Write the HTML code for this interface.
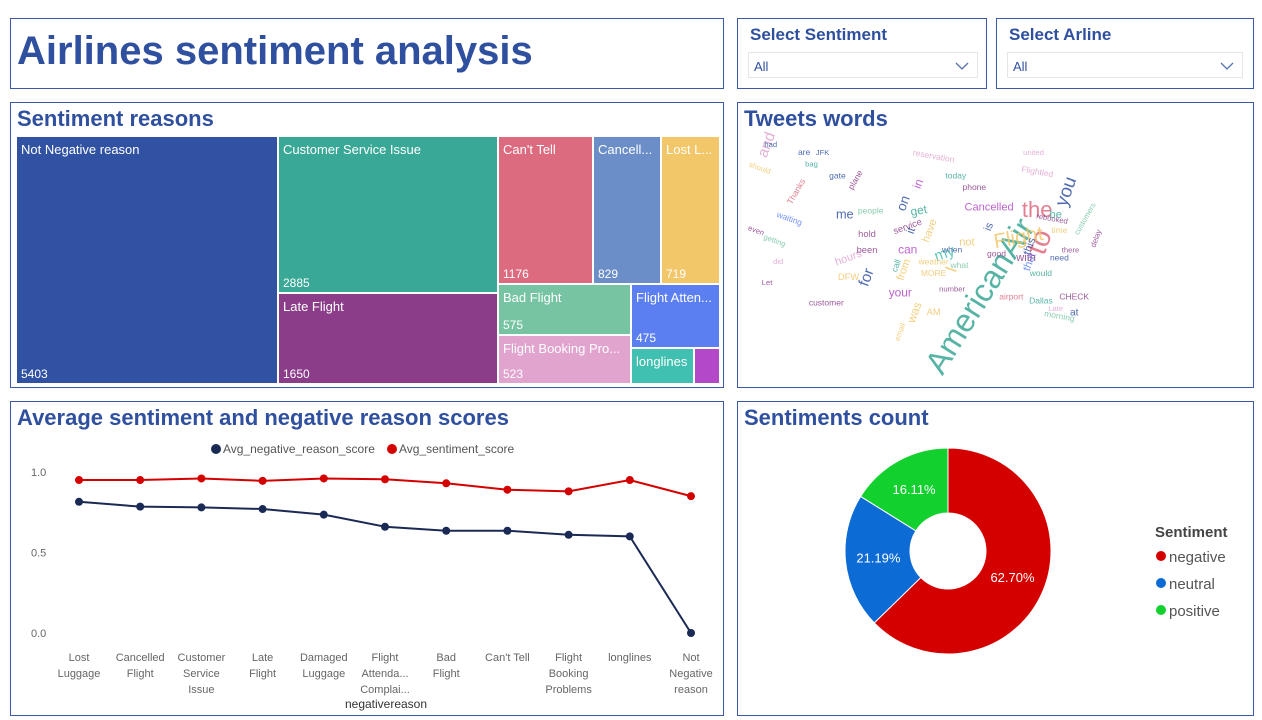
<!DOCTYPE html>
<html><head><meta charset="utf-8"><style>
body{margin:0;width:1262px;height:720px;background:#fff;font-family:"Liberation Sans",sans-serif;position:relative;overflow:hidden}
.p{position:absolute;border:1px solid #3a5aa8;box-sizing:border-box;background:#fff}
.t{position:absolute;color:#2f4f9f;font-weight:bold}
.tm{position:absolute;color:#fff;font-size:13px;box-sizing:border-box}
.tm .n{position:absolute;left:4px;top:5px;white-space:nowrap}
.tm .v{position:absolute;left:4px;bottom:2px;font-size:12px}
.dd{position:absolute;border:1px solid #e6e6e6;height:26px;box-sizing:border-box;font-size:13px;color:#2f4f9f;padding:6px 5px}
</style></head><body>
<div class="p" style="left:10px;top:18px;width:714px;height:71px"><div class="t" style="left:6px;top:10px;font-size:40px">Airlines sentiment analysis</div></div>
<div class="p" style="left:737px;top:18px;width:250px;height:71px"><div class="t" style="left:12px;top:6px;font-size:17px">Select Sentiment</div>
<div class="dd" style="left:10px;top:33px;width:230px">All<svg width="14" height="8" style="position:absolute;right:8px;top:9px"><polyline points="1,1 7,7 13,1" fill="none" stroke="#5570b0" stroke-width="1.3"/></svg></div></div>
<div class="p" style="left:996px;top:18px;width:258px;height:71px"><div class="t" style="left:12px;top:6px;font-size:17px">Select Arline</div>
<div class="dd" style="left:10px;top:33px;width:236px">All<svg width="14" height="8" style="position:absolute;right:8px;top:9px"><polyline points="1,1 7,7 13,1" fill="none" stroke="#5570b0" stroke-width="1.3"/></svg></div></div>

<div class="p" style="left:10px;top:102px;width:714px;height:286px"><div class="t" style="left:6px;top:3px;font-size:22px">Sentiment reasons</div></div>
<div id="tm"></div>

<div class="p" style="left:737px;top:102px;width:517px;height:286px"><div class="t" style="left:6px;top:3px;font-size:22px">Tweets words</div>
<svg width="517" height="286" style="position:absolute;left:0;top:0" font-family="Liberation Sans, sans-serif" id="wc"></svg></div>

<div class="p" style="left:10px;top:401px;width:714px;height:315px"><div class="t" style="left:6px;top:3px;font-size:22px">Average sentiment and negative reason scores</div></div>
<svg id="lc" width="714" height="315" style="position:absolute;left:10px;top:401px" font-family="Liberation Sans, sans-serif"></svg>

<div class="p" style="left:737px;top:401px;width:517px;height:315px"><div class="t" style="left:6px;top:3px;font-size:22px">Sentiments count</div></div>
<svg id="dn" width="517" height="315" style="position:absolute;left:737px;top:401px" font-family="Liberation Sans, sans-serif"></svg>

<script>
// Treemap
const tmNames=["Not Negative reason","Customer Service Issue","Late Flight","Can't Tell","Cancell...","Lost L...","Bad Flight","Flight Booking Pro...","Flight Atten...","longlines",""];
const tmValues=[5403,2885,1650,1176,829,719,575,523,475,"",""];
const tmColors=["#3152a3","#3aa896","#8b3d8a","#dd6b7f","#6b8ec8","#f2c76a","#76c4a2","#e0a4cf","#5b7ff0","#40c0b0","#b348c8"];
const tmRects=[[17,137,260,246],[279,137,218,155],[279,294,218,89],[499,137,93,146],[594,137,66,146],[662,137,57,146],[499,285,131,49],[499,336,131,47],[632,285,87,62],[632,349,61,34],[695,349,24,34]];
const tm=document.getElementById('tm');
tmNames.forEach((n,i)=>{const r=tmRects[i];const d=document.createElement('div');d.className='tm';


d.style.cssText=`left:${r[0]}px;top:${r[1]}px;width:${r[2]}px;height:${r[3]}px;background:${tmColors[i]};overflow:hidden`;
d.innerHTML=(n?`<span class="n">${n}</span>`:'')+(tmValues[i]!==""?`<span class="v">${tmValues[i]}</span>`:'');tm.appendChild(d);});

// Word cloud
const words=[["AmericanAir",420,250,38,-58,"#3aa896"],["to",500,180,34,-70,"#dd6b7f"],["the",495,140,26,0,"#dd6b7f"],["Flight",470,175,24,-10,"#f2c76a"],["you",535,115,22,-70,"#3152a3"],["and",130,55,18,-70,"#e0a4cf"],["my",370,195,18,-20,"#40c0b0"],["for",265,225,18,-70,"#3152a3"],["on",315,130,16,-70,"#3152a3"],["I",380,215,20,-70,"#f2c76a"],["Cancelled",430,135,13,0,"#b348c8"],["me",235,145,15,0,"#3152a3"],["get",335,140,14,-10,"#3aa896"],["is",430,160,13,-70,"#3152a3"],["your",310,245,14,0,"#b348c8"],["can",320,190,14,0,"#b348c8"],["was",330,270,14,-70,"#f2c76a"],["it",325,165,14,-70,"#3152a3"],["in",335,105,14,-70,"#b348c8"],["have",350,165,13,-70,"#f2c76a"],["not",400,180,13,0,"#f2c76a"],["this",485,185,13,-70,"#3152a3"],["that",485,205,13,-70,"#5b7ff0"],["be",520,145,13,0,"#3aa896"],["with",480,200,13,0,"#8b3d8a"],["from",315,215,13,-70,"#f2c76a"],["hours",240,200,13,-20,"#e0a4cf"],["service",320,160,11,-20,"#8b3d8a"],["customer",210,258,10,0,"#8b3d8a"],["Thanks",170,115,10,-60,"#dd6b7f"],["waiting",160,150,10,20,"#5b7ff0"],["people",270,140,10,0,"#76c4a2"],["weather",355,205,10,0,"#f2c76a"],["CHECK",545,250,10,0,"#8b3d8a"],["Dallas",500,255,10,0,"#3aa896"],["morning",525,275,10,10,"#76c4a2"],["at",545,270,12,0,"#3152a3"],["airport",460,250,10,0,"#dd6b7f"],["reservation",355,70,10,10,"#e0a4cf"],["today",385,95,10,0,"#3aa896"],["phone",410,110,10,0,"#8b3d8a"],["Flightled",495,90,10,10,"#e0a4cf"],["gate",225,95,10,0,"#3152a3"],["plane",250,100,10,-60,"#8b3d8a"],["had",135,55,9,0,"#3152a3"],["should",120,85,9,20,"#f2c76a"],["even",115,165,9,20,"#8b3d8a"],["getting",140,178,9,20,"#76c4a2"],["did",145,205,9,0,"#e0a4cf"],["Let",130,232,9,0,"#8b3d8a"],["email",310,295,9,-70,"#f2c76a"],["number",380,240,9,0,"#8b3d8a"],["delay",575,175,9,-70,"#8b3d8a"],["customers",560,150,9,-60,"#76c4a2"],["rebooked",515,150,9,10,"#8b3d8a"],["united",490,65,9,0,"#e0a4cf"],["JFK",205,65,9,0,"#3152a3"],["are",180,65,10,0,"#3152a3"],["bag",190,80,9,0,"#3aa896"],["DFW",240,225,11,0,"#f2c76a"],["been",265,190,11,0,"#8b3d8a"],["AM",355,270,11,0,"#f2c76a"],["MORE",355,220,10,0,"#f2c76a"],["Late",520,265,9,0,"#e0a4cf"],["need",525,200,10,0,"#3152a3"],["would",500,220,10,0,"#3aa896"],["good",440,195,10,0,"#8b3d8a"],["what",390,210,10,0,"#76c4a2"],["when",380,190,10,0,"#3152a3"],["hold",265,170,11,0,"#8b3d8a"],["call",305,210,10,-70,"#3aa896"],["time",525,165,10,0,"#f2c76a"],["there",540,190,9,0,"#8b3d8a"]];
const wc=document.getElementById('wc');
words.forEach(w=>{const t=document.createElementNS('http://www.w3.org/2000/svg','text');


const X=18+(w[1]-115)*0.74, Y=42+(w[2]-55)*0.78;
t.setAttribute('transform',`translate(${X},${Y}) rotate(${w[4]})`);t.setAttribute('font-size',w[3]*0.85);t.setAttribute('fill',w[5]);t.setAttribute('text-anchor','middle');t.setAttribute('dominant-baseline','middle');t.setAttribute('opacity','0.85');t.textContent=w[0];wc.appendChild(t);});

// Line chart
const cats=[["Lost","Luggage"],["Cancelled","Flight"],["Customer","Service","Issue"],["Late","Flight"],["Damaged","Luggage"],["Flight","Attenda...","Complai..."],["Bad","Flight"],["Can't Tell"],["Flight","Booking","Problems"],["longlines"],["Not","Negative","reason"]];
const sentScore=[0.95,0.95,0.96,0.945,0.96,0.955,0.93,0.89,0.88,0.95,0.85];
const negScore=[0.815,0.785,0.78,0.77,0.735,0.66,0.635,0.635,0.61,0.6,0.0];
const yTicks=[0.0,0.5,1.0];
const NS='http://www.w3.org/2000/svg';const lc=document.getElementById('lc');
const xs=i=>69+i*61.2, ys=v=>232-v*161;
function el(p,tag,a,txt){const e=document.createElementNS(NS,tag);for(const k in a)e.setAttribute(k,a[k]);if(txt!==undefined)e.textContent=txt;p.appendChild(e);return e;}
yTicks.forEach(v=>{const t=el(lc,'text',{x:21,y:ys(v)+4,'font-size':11,fill:'#666'},v.toFixed(1));});
cats.forEach((c,i)=>c.forEach((l,j)=>{const t=el(lc,'text',{x:xs(i),y:260+j*16,'font-size':11,fill:'#666','text-anchor':'middle'},l);}));
const xt=el(lc,'text',{x:376,y:307,'font-size':12,fill:'#333','text-anchor':'middle'},'negativereason');
[[negScore,'#1b2a55','negative-reason-line'],[sentScore,'#d40000','sentiment-line']].forEach(([s,c,nm])=>{
const pl=el(lc,'polyline',{points:s.map((v,i)=>xs(i)+','+ys(v)).join(' '),fill:'none',stroke:c,'stroke-width':2});
s.forEach((v,i)=>{const p=el(lc,'circle',{cx:xs(i),cy:ys(v),r:4,fill:c});});});
const lg=el(lc,'g',{});
el(lg,'circle',{cx:206,cy:48,r:5,fill:'#1b2a55'});el(lg,'text',{x:213,y:52,'font-size':12,fill:'#555'},'Avg_negative_reason_score');
el(lg,'circle',{cx:382,cy:48,r:5,fill:'#d40000'});el(lg,'text',{x:389,y:52,'font-size':12,fill:'#555'},'Avg_sentiment_score');

// Donut
const sLabels=["negative","neutral","positive"];
const sValues=[62.70,21.19,16.11];
const sColors=["#d40000","#0c6bd4","#12d12f"];
const dn=document.getElementById('dn');const cx=211,cy=150,R=103,r=38;let a0=-Math.PI/2;
const tot=sValues.reduce((a,b)=>a+b,0);
sValues.forEach((v,i)=>{const a1=a0+v/tot*2*Math.PI;const lg2=(a1-a0)>Math.PI?1:0;
const P=(rr,a)=>[cx+rr*Math.cos(a),cy+rr*Math.sin(a)];const [x0,y0]=P(R,a0),[x1,y1]=P(R,a1),[x2,y2]=P(r,a1),[x3,y3]=P(r,a0);
const p=el(dn,'path',{d:`M${x0},${y0}A${R},${R} 0 ${lg2} 1 ${x1},${y1}L${x2},${y2}A${r},${r} 0 ${lg2} 0 ${x3},${y3}Z`,fill:sColors[i],stroke:'#fff','stroke-width':1});

const am=(a0+a1)/2;const [lx,ly]=P(70,am);const t=el(dn,'text',{x:lx,y:ly+4,'font-size':13,fill:'#fff','text-anchor':'middle'},v.toFixed(2)+'%');
a0=a1;});
const lt=el(dn,'text',{x:418,y:136,'font-size':15,'font-weight':'bold',fill:'#444'},'Sentiment');
sLabels.forEach((l,i)=>{const g=el(dn,'g',{});
el(g,'circle',{cx:424,cy:155+i*27,r:5,fill:sColors[i]});el(g,'text',{x:432,y:161+i*27,'font-size':15,fill:'#555'},l);});
</script>
</body></html>
